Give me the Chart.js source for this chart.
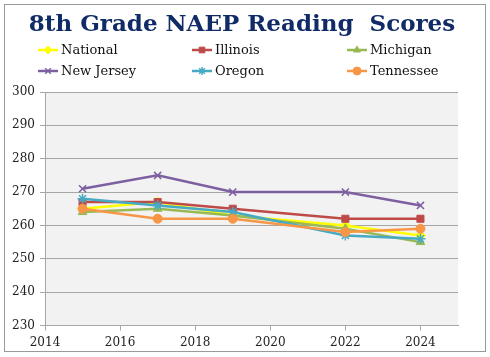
<!DOCTYPE html>
<html>
<head>
<meta charset="utf-8">
<script src="https://cdn.jsdelivr.net/npm/chart.js@4.4.0/dist/chart.umd.min.js"></script>
<style>
  html, body { margin: 0; padding: 0; background: #ffffff; }
  #wrap { position: relative; width: 490px; height: 357px; }
  #frame { position: absolute; left: 4px; top: 4px; width: 480px; height: 346px; border: 1px solid #9a9a9a; }
  canvas { position: absolute; left: 0; top: 0; }
</style>
</head>
<body>
<div id="wrap">
  <div id="frame"></div>
  <canvas id="c" width="490" height="357"></canvas>
</div>
<script>
const chartTitle = "8th Grade NAEP Reading  Scores";
const years = [2015, 2017, 2019, 2022, 2024];
const seriesNames = ["National", "Illinois", "Michigan", "New Jersey", "Oregon", "Tennessee"];
const national  = [265, 267, 263, 260, 257];
const illinois  = [267, 267, 265, 262, 262];
const michigan  = [264, 265, 263, 259, 255];
const newJersey = [271, 275, 270, 270, 266];
const oregon    = [268, 266, 264, 257, 256];
const tennessee = [265, 262, 262, 258, 259];
const yTicks = [230, 240, 250, 260, 270, 280, 290, 300];
const xTicks = [2014, 2016, 2018, 2020, 2022, 2024];

const values = [national, illinois, michigan, newJersey, oregon, tennessee];
const colors = ["#FFFF00", "#BE4B48", "#98B954", "#7D60A0", "#46AAC5", "#F79646"];
const markers = ["rectRot", "rect", "triangle", "crossRot", "star", "circle"];
const sizes = [5, 5, 5, 5, 5, 4.5];

const datasets = seriesNames.map((name, i) => ({
  label: name,
  data: years.map((yr, j) => ({ x: yr, y: values[i][j] })),
  borderColor: colors[i],
  backgroundColor: colors[i],
  pointStyle: markers[i],
  pointRadius: sizes[i],
  pointBorderColor: colors[i],
  pointBackgroundColor: colors[i],
  pointBorderWidth: (markers[i] === "crossRot" || markers[i] === "star") ? 1.5 : 1,
  borderWidth: 2.5,
  tension: 0,
  order: seriesNames.length - i
}));

const serif = "'DejaVu Serif', 'Liberation Serif', serif";

const decor = {
  id: 'decor',
  beforeDraw(chart) {
    const { ctx, chartArea: a } = chart;
    ctx.save();
    ctx.fillStyle = '#F2F2F2';
    ctx.fillRect(a.left, a.top, a.right - a.left, a.bottom - a.top);
    ctx.restore();
  },
  afterDraw(chart) {
    const ctx = chart.ctx;
    ctx.save();
    // title
    ctx.fillStyle = '#102B66';
    ctx.font = "bold 23px " + serif;
    ctx.textAlign = 'center';
    ctx.textBaseline = 'middle';
    ctx.fillText(chartTitle, 242, 25);
    // legend in 3 columns
    const colX = [38, 192, 347];
    const rowY = [50, 71];
    ctx.font = "13px " + serif;
    ctx.textAlign = 'left';
    chart.data.datasets.forEach((ds, i) => {
      const x0 = colX[i % 3], y0 = rowY[Math.floor(i / 3)];
      ctx.strokeStyle = ds.borderColor;
      ctx.lineWidth = 2.5;
      ctx.beginPath();
      ctx.moveTo(x0, y0);
      ctx.lineTo(x0 + 20, y0);
      ctx.stroke();
      ctx.fillStyle = ds.pointBackgroundColor;
      ctx.strokeStyle = ds.pointBorderColor;
      ctx.lineWidth = ds.pointBorderWidth;
      Chart.helpers.drawPoint(ctx, { pointStyle: ds.pointStyle, radius: 4, rotation: 0, borderWidth: ds.pointBorderWidth }, x0 + 10, y0);
      ctx.fillStyle = '#111111';
      ctx.fillText(ds.label, x0 + 23, y0 + 1);
    });
    ctx.restore();
  }
};

new Chart(document.getElementById('c'), {
  type: 'line',
  data: { datasets },
  plugins: [decor],
  options: {
    responsive: false,
    animation: false,
    layout: { padding: { top: 92, right: 32, left: 0, bottom: 0 } },
    plugins: { legend: { display: false }, title: { display: false }, tooltip: { enabled: false } },
    scales: {
      x: {
        type: 'linear',
        min: 2014, max: 2025,
        afterBuildTicks(scale) { scale.ticks = xTicks.map(v => ({ value: v })); },
        afterFit(scale) { scale.height = 31.5; },
        ticks: { font: { family: serif, size: 12 }, color: '#222222', padding: 5, maxRotation: 0, callback: v => String(v) },
        grid: { drawOnChartArea: false, drawTicks: true, tickLength: 5, color: '#A6A6A6' },
        border: { color: '#A6A6A6', width: 1 }
      },
      y: {
        min: 230, max: 300,
        afterBuildTicks(scale) { scale.ticks = yTicks.map(v => ({ value: v })); },
        afterFit(scale) { scale.width = 45; },
        ticks: { font: { family: serif, size: 12 }, color: '#222222', padding: 5 },
        grid: { color: '#A6A6A6', lineWidth: 1, tickLength: 5 },
        border: { color: '#A6A6A6', width: 1 }
      }
    }
  }
});
</script>
</body>
</html>
